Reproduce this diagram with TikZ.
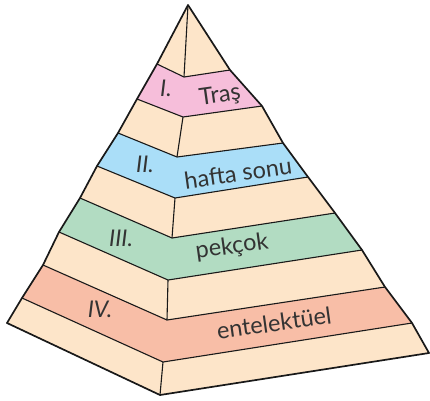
\documentclass[tikz,border=0pt]{standalone}
\usepackage{fontspec}
\setmainfont{Lato}
\begin{document}
\begin{tikzpicture}[x=1pt,y=-1pt,
  edgeline/.style={line width=1.7pt,line join=round,line cap=round,draw=black!90},
  inline/.style={line width=1.1pt,line join=round,draw=black!90},
  lbl/.style={text=black!80,font=\fontsize{23.5}{26}\selectfont,inner sep=0pt},
  num/.style={text=black!80,font=\fontsize{23}{26}\selectfont\itshape,inner sep=0pt}]
\definecolor{beige}{HTML}{FDE5C9}
\definecolor{pinkb}{HTML}{F6BEDA}
\definecolor{blueb}{HTML}{AADEF8}
\definecolor{greenb}{HTML}{B2DCC2}
\definecolor{salmonb}{HTML}{F8BEA7}
\useasboundingbox (0,0) rectangle (430,400);
\coordinate (A) at (188,5);
\coordinate (L1) at (157,64);  \coordinate (F1) at (184,77);  \coordinate (R1) at (230,70);
\coordinate (L2) at (137,99);  \coordinate (F2) at (183,117); \coordinate (R2) at (262,106);
\coordinate (L3) at (118,133); \coordinate (F3) at (177,157); \coordinate (R3) at (283,143);
\coordinate (L4) at (97,166);  \coordinate (F4) at (175,198); \coordinate (R4) at (308,177);
\coordinate (L5) at (80,198);  \coordinate (F5) at (172,238); \coordinate (R5) at (335,213);
\coordinate (L6) at (59,232);  \coordinate (F6) at (168,280); \coordinate (R6) at (362,250);
\coordinate (L7) at (43,265);  \coordinate (F7) at (167,320); \coordinate (R7) at (385,287);
\coordinate (L8) at (22,298);  \coordinate (F8) at (163,362); \coordinate (R8) at (412,323);
\coordinate (L9) at (7,323);   \coordinate (F9) at (160,395); \coordinate (R9) at (429,353);
% bands
\fill[beige] (A) -- (L1) -- (F1) -- (R1) -- cycle;
\fill[pinkb] (L1) -- (F1) -- (R1) -- (R2) -- (F2) -- (L2) -- cycle;
\fill[beige] (L2) -- (F2) -- (R2) -- (R3) -- (F3) -- (L3) -- cycle;
\fill[blueb] (L3) -- (F3) -- (R3) -- (R4) -- (F4) -- (L4) -- cycle;
\fill[beige] (L4) -- (F4) -- (R4) -- (R5) -- (F5) -- (L5) -- cycle;
\fill[greenb] (L5) -- (F5) -- (R5) -- (R6) -- (F6) -- (L6) -- cycle;
\fill[beige] (L6) -- (F6) -- (R6) -- (R7) -- (F7) -- (L7) -- cycle;
\fill[salmonb] (L7) -- (F7) -- (R7) -- (R8) -- (F8) -- (L8) -- cycle;
\fill[beige] (L8) -- (F8) -- (R8) -- (R9) -- (F9) -- (L9) -- cycle;
% boundaries
\foreach \i in {1,...,8} {\draw[inline] (L\i) -- (F\i) -- (R\i);}
% front edge in beige bands
\draw[inline] (A) -- (F1);
\draw[inline] (F2) -- (F3);
\draw[inline] (F4) -- (F5);
\draw[inline] (F6) -- (F7);
\draw[inline] (F8) -- (F9);
% outline
\draw[edgeline] (L9) -- (L8) -- (L7) -- (L6) -- (L5) -- (L4) -- (L3) -- (L2) -- (L1) -- (A)
  -- (R1) -- (R2) -- (R3) -- (R4) -- (R5) -- (R6) -- (R7) -- (R8) -- (R9) -- (F9) -- cycle;
% labels
\node[num] (n1) at (166,88) {I.};
\node[lbl,rotate=8] (t1) at (220,96) {Traş};
\node[num] (n2) at (145,164) {II.};
\node[lbl,rotate=8] (t2) at (238,173) {hafta sonu};
\node[num] (n3) at (121,238) {III.};
\node[lbl,rotate=8] (t3) at (232,247) {pekçok};
\node[num] (n4) at (100,309) {IV.};
\node[lbl,rotate=8] (t4) at (274,323) {entelektüel};
\end{tikzpicture}
\end{document}
